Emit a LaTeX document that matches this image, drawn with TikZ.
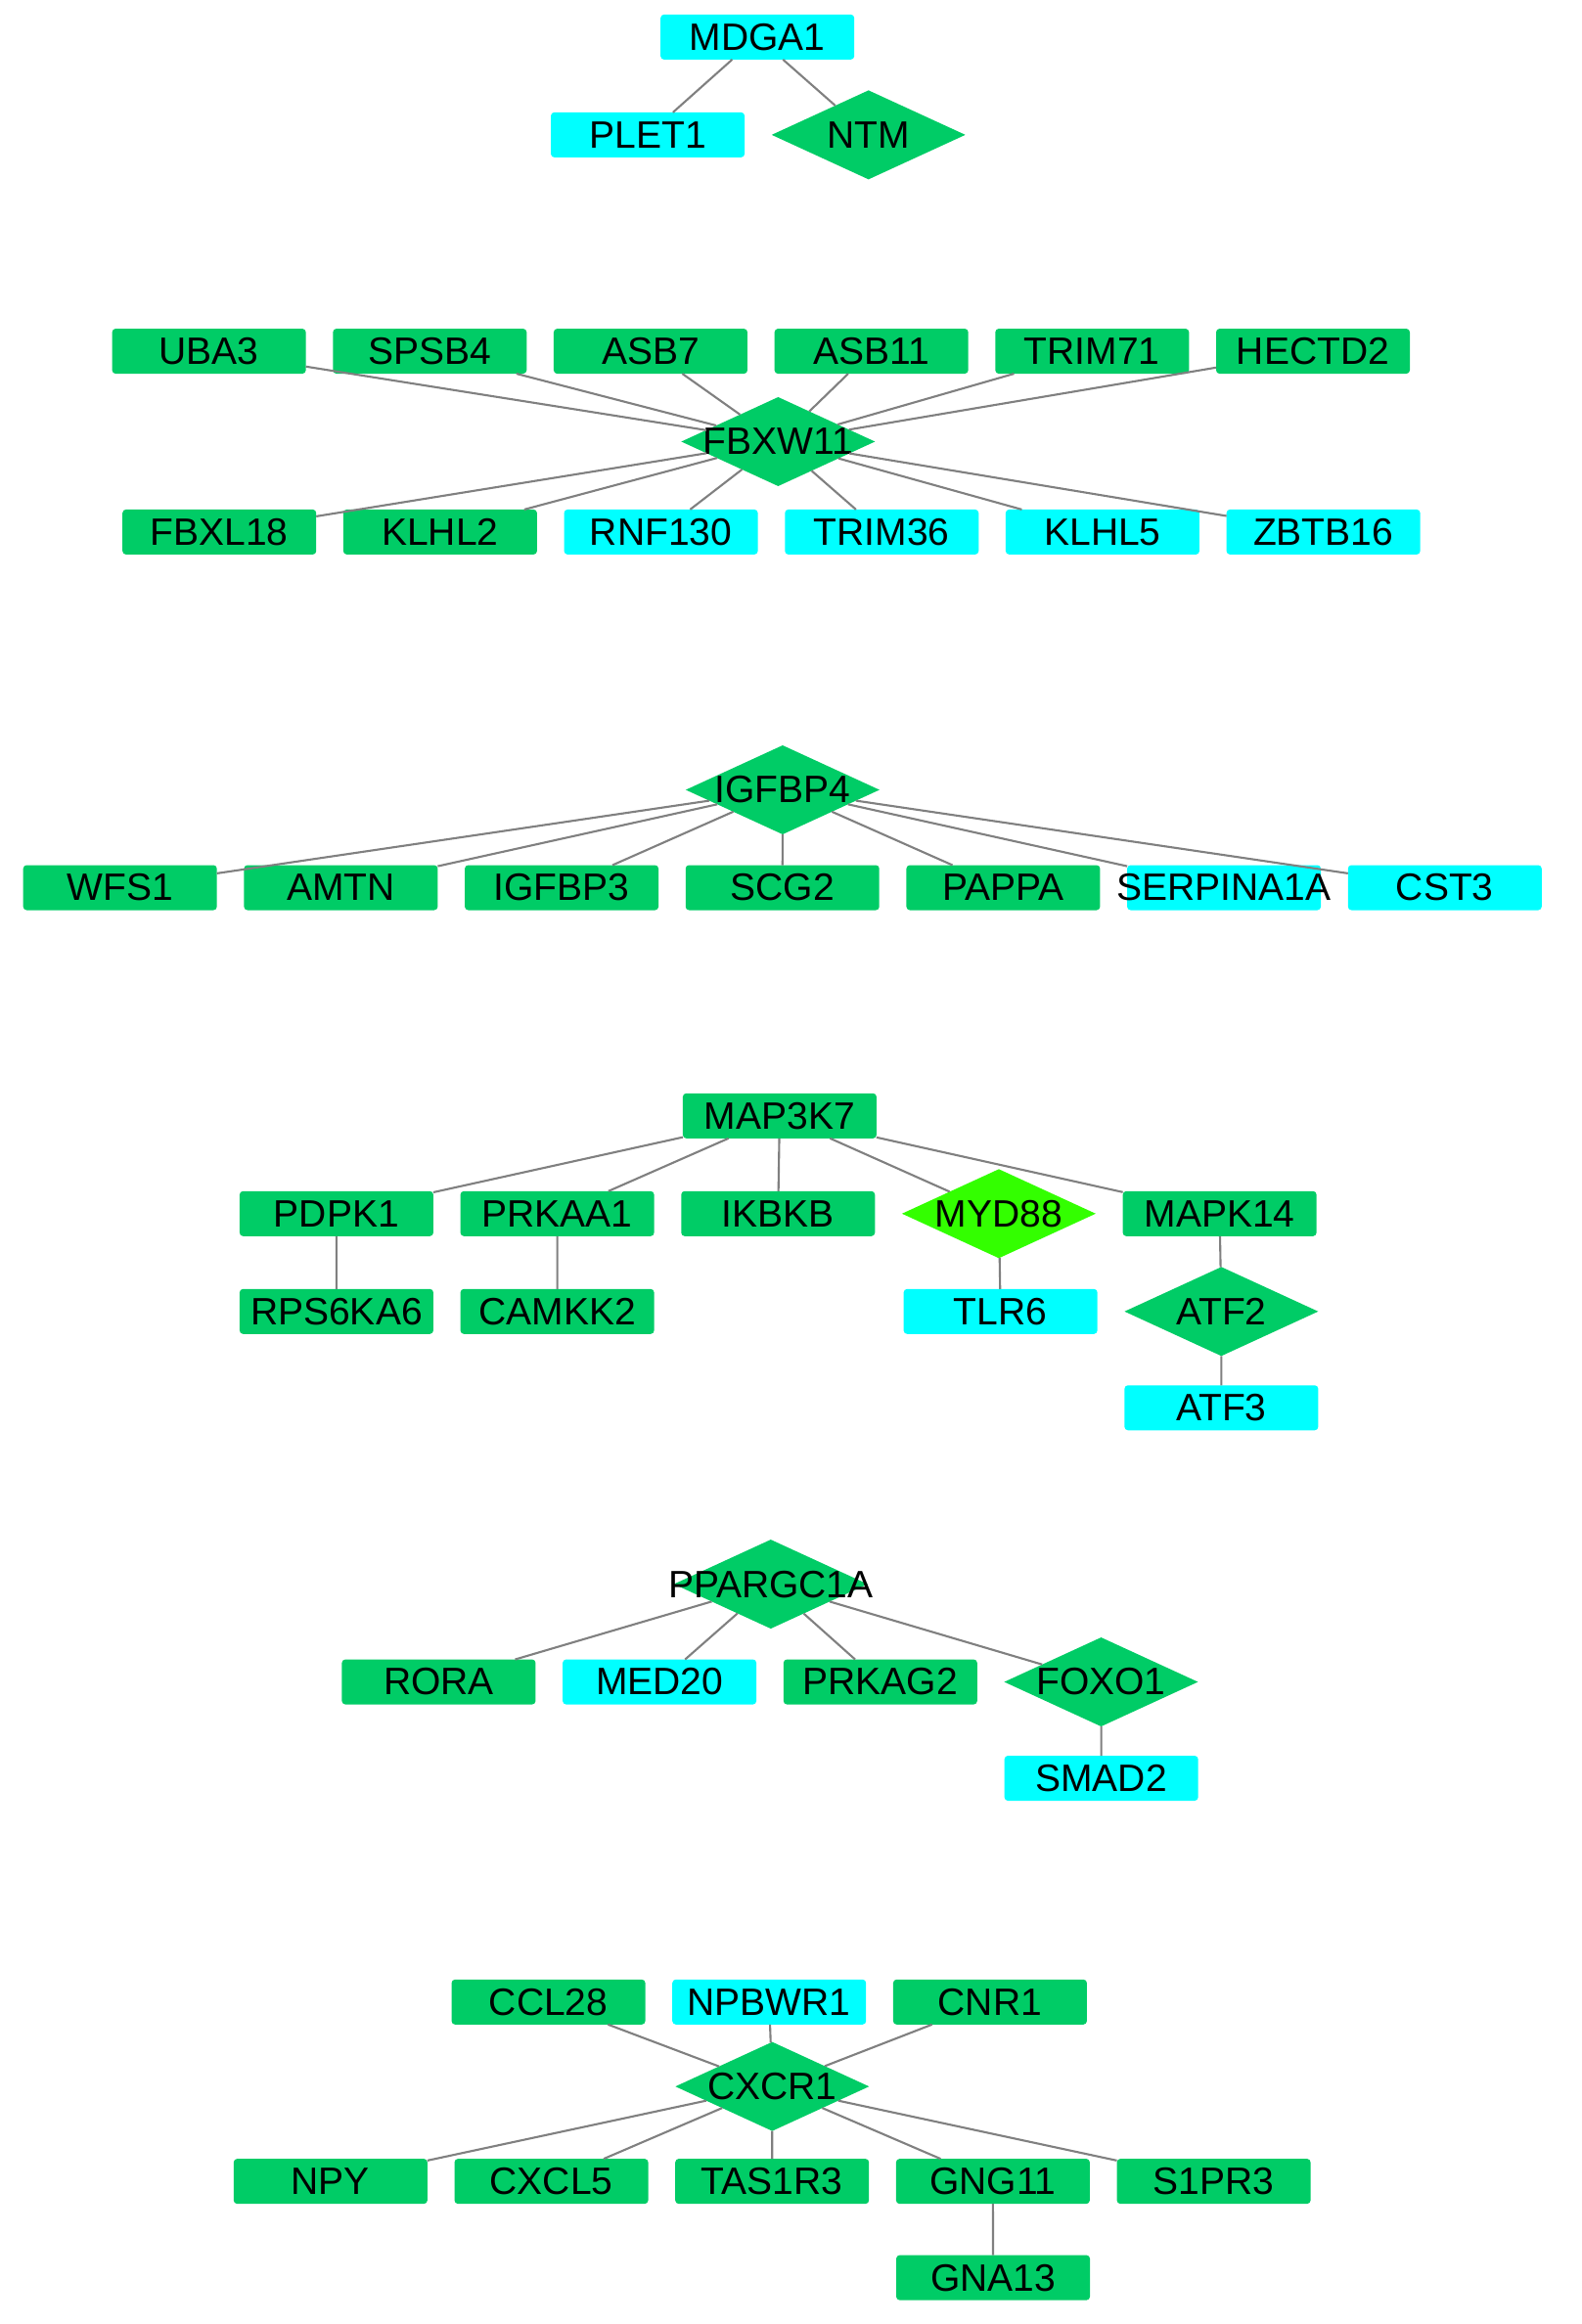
\documentclass[tikz,border=0pt]{standalone}
\usepackage{fontspec}
\setmainfont{Liberation Sans}
\usetikzlibrary{positioning,shapes.geometric}
\definecolor{genegreen}{HTML}{00CC66}
\definecolor{genecyan}{HTML}{00FFFF}
\definecolor{limegreen}{HTML}{33FF00}
\definecolor{edgegray}{HTML}{808080}
\newcommand{\gname}[1]{\makebox[0pt]{#1}}

\begin{document}
\begin{tikzpicture}[x=0.01515cm, y=-0.01515cm,
    node distance=0.277cm,
    gene/.style={rectangle, rounded corners=1pt, fill=genegreen, minimum width=1.98cm, minimum height=0.46cm, inner sep=0pt, outer sep=0pt, font=\fontsize{11.1}{13}\selectfont},
    query/.style={gene, fill=genecyan},
    hub/.style={diamond, fill=genegreen, minimum width=1.98cm, minimum height=0.91cm, inner sep=0pt, outer sep=0pt, font=\fontsize{11.1}{13}\selectfont},
    link/.style={draw=edgegray, line width=0.6pt}
]
    \useasboundingbox (0,0) rectangle (1067.3,1568.3);

    % MDGA1 cluster
    \node[query] (mdga1) at (511,25) {MDGA1};
    \node[query] (plet1) at (437,91) {PLET1};
    \node[hub, right=of plet1] (ntm) {\gname{NTM}};

    % FBXW11 cluster
    \node[gene] (uba3) at (141,237) {UBA3};
    \node[gene, right=of uba3] (spsb4) {SPSB4};
    \node[gene, right=of spsb4] (asb7) {ASB7};
    \node[gene, right=of asb7] (asb11) {ASB11};
    \node[gene, right=of asb11] (trim71) {TRIM71};
    \node[gene, right=of trim71] (hectd2) {HECTD2};
    \node[hub] (fbxw11) at (525,298) {\gname{FBXW11}};
    \node[gene] (fbxl18) at (148,359) {FBXL18};
    \node[gene, right=of fbxl18] (klhl2) {KLHL2};
    \node[query, right=of klhl2] (rnf130) {RNF130};
    \node[query, right=of rnf130] (trim36) {TRIM36};
    \node[query, right=of trim36] (klhl5) {KLHL5};
    \node[query, right=of klhl5] (zbtb16) {ZBTB16};

    % IGFBP4 cluster
    \node[hub] (igfbp4) at (528,533) {\gname{IGFBP4}};
    \node[gene] (wfs1) at (81,599) {WFS1};
    \node[gene, right=of wfs1] (amtn) {AMTN};
    \node[gene, right=of amtn] (igfbp3) {IGFBP3};
    \node[gene, right=of igfbp3] (scg2) {SCG2};
    \node[gene, right=of scg2] (pappa) {PAPPA};
    \node[query, right=of pappa] (serpina1a) {\gname{SERPINA1A}};
    \node[query, right=of serpina1a] (cst3) {CST3};

    % MAP3K7 cluster
    \node[gene] (map3k7) at (526,753) {MAP3K7};
    \node[gene] (pdpk1) at (227,819) {PDPK1};
    \node[gene, right=of pdpk1] (prkaa1) {PRKAA1};
    \node[gene, right=of prkaa1] (ikbkb) {IKBKB};
    \node[hub, fill=limegreen, right=of ikbkb] (myd88) {\gname{MYD88}};
    \node[gene, right=of myd88] (mapk14) {MAPK14};
    \node[gene] (rps6ka6) at (227,885) {RPS6KA6};
    \node[gene, right=of rps6ka6] (camkk2) {CAMKK2};
    \node[query] (tlr6) at (675,885) {TLR6};
    \node[hub] (atf2) at (824,885) {\gname{ATF2}};
    \node[query] (atf3) at (824,950) {ATF3};

    % PPARGC1A cluster
    \node[hub] (ppargc1a) at (520,1069) {\gname{PPARGC1A}};
    \node[gene] (rora) at (296,1135) {RORA};
    \node[query, right=of rora] (med20) {MED20};
    \node[gene, right=of med20] (prkag2) {PRKAG2};
    \node[hub, right=of prkag2] (foxo1) {\gname{FOXO1}};
    \node[query] (smad2) at (743,1200) {SMAD2};

    % CXCR1 cluster
    \node[gene] (ccl28) at (370,1351) {CCL28};
    \node[query, right=of ccl28] (npbwr1) {NPBWR1};
    \node[gene, right=of npbwr1] (cnr1) {CNR1};
    \node[hub] (cxcr1) at (521,1408) {\gname{CXCR1}};
    \node[gene] (npy) at (223,1472) {NPY};
    \node[gene, right=of npy] (cxcl5) {CXCL5};
    \node[gene, right=of cxcl5] (tas1r3) {TAS1R3};
    \node[gene, right=of tas1r3] (gng11) {GNG11};
    \node[gene, right=of gng11] (s1pr3) {S1PR3};
    \node[gene] (gna13) at (670,1537) {GNA13};

    % Interactions
    \draw[link] (mdga1) -- (plet1) (mdga1) -- (ntm);
    \draw[link] (fbxw11) -- (uba3) (fbxw11) -- (spsb4) (fbxw11) -- (asb7)
        (fbxw11) -- (asb11) (fbxw11) -- (trim71) (fbxw11) -- (hectd2);
    \draw[link] (fbxw11) -- (fbxl18) (fbxw11) -- (klhl2) (fbxw11) -- (rnf130)
        (fbxw11) -- (trim36) (fbxw11) -- (klhl5) (fbxw11) -- (zbtb16);
    \draw[link] (igfbp4) -- (wfs1) (igfbp4) -- (amtn) (igfbp4) -- (igfbp3) (igfbp4) -- (scg2)
        (igfbp4) -- (pappa) (igfbp4) -- (serpina1a) (igfbp4) -- (cst3);
    \draw[link] (map3k7) -- (pdpk1) (map3k7) -- (prkaa1) (map3k7) -- (ikbkb)
        (map3k7) -- (myd88) (map3k7) -- (mapk14);
    \draw[link] (pdpk1) -- (rps6ka6) (prkaa1) -- (camkk2) (myd88) -- (tlr6)
        (mapk14) -- (atf2) (atf2) -- (atf3);
    \draw[link] (ppargc1a) -- (rora) (ppargc1a) -- (med20) (ppargc1a) -- (prkag2)
        (ppargc1a) -- (foxo1) (foxo1) -- (smad2);
    \draw[link] (cxcr1) -- (ccl28) (cxcr1) -- (npbwr1) (cxcr1) -- (cnr1);
    \draw[link] (cxcr1) -- (npy) (cxcr1) -- (cxcl5) (cxcr1) -- (tas1r3)
        (cxcr1) -- (gng11) (cxcr1) -- (s1pr3) (gng11) -- (gna13);
\end{tikzpicture}
\end{document}
